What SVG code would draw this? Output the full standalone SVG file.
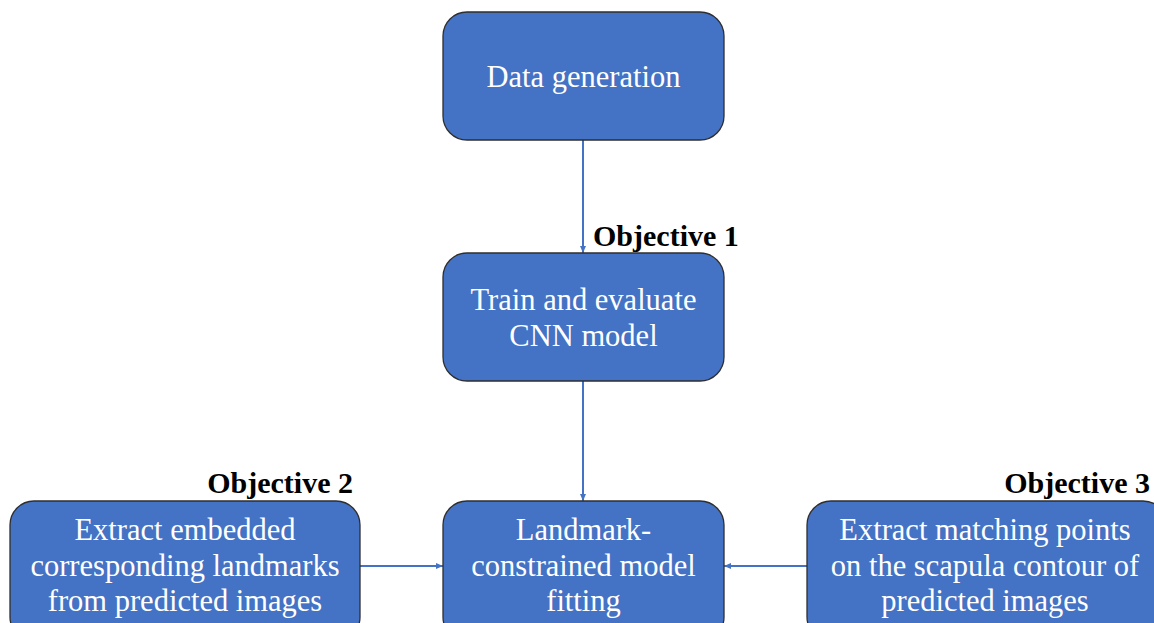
<svg xmlns="http://www.w3.org/2000/svg" width="1154" height="623" viewBox="0 0 1154 623">
<style>
.box{fill:#4472C4;stroke:#2E2E2E;stroke-width:1.3}
.t{font-family:"Liberation Serif","Times New Roman",serif;font-size:30.5px;fill:#fff;text-anchor:middle}
.obj{font-family:"Liberation Serif","Times New Roman",serif;font-size:30px;font-weight:bold;fill:#000}
.c{stroke:#4472C4;stroke-width:2;fill:none;marker-end:url(#ah)}
</style>
<defs>
<marker id="ah" markerWidth="8" markerHeight="8" refX="7" refY="4" orient="auto" markerUnits="userSpaceOnUse">
<path d="M0,1 L7,4 L0,7 Z" fill="#4472C4"/>
</marker>
</defs>
<rect width="1154" height="623" fill="#fff"/>
<g id="connectors">
<line class="c" x1="583" y1="140" x2="583" y2="253"/>
<line class="c" x1="583" y1="381" x2="583" y2="501"/>
<line class="c" x1="360" y1="566" x2="443" y2="566"/>
<line class="c" x1="807" y1="566" x2="724" y2="566"/>
</g>
<g id="n1">
<rect class="box" x="443" y="12" width="281" height="128" rx="24"/>
<text class="t" x="583.5" y="87">Data generation</text>
</g>
<g id="n2">
<rect class="box" x="443" y="253" width="281" height="128" rx="24"/>
<text class="t" x="583.5" y="310">Train and evaluate</text>
<text class="t" x="583.5" y="346">CNN model</text>
</g>
<g id="n3">
<rect class="box" x="443" y="501" width="281" height="140" rx="24"/>
<text class="t" x="583.5" y="540">Landmark-</text>
<text class="t" x="583.5" y="576">constrained model</text>
<text class="t" x="583.5" y="611">fitting</text>
</g>
<g id="n4">
<rect class="box" x="10" y="501" width="350" height="140" rx="24"/>
<text class="t" x="185" y="540">Extract embedded</text>
<text class="t" x="185" y="576">corresponding landmarks</text>
<text class="t" x="185" y="611">from predicted images</text>
</g>
<g id="n5">
<rect class="box" x="807" y="501" width="360" height="140" rx="24"/>
<text class="t" x="985" y="540">Extract matching points</text>
<text class="t" x="985" y="576">on the scapula contour of</text>
<text class="t" x="985" y="611">predicted images</text>
</g>
<g id="labels">
<text class="obj" x="593" y="246">Objective 1</text>
<text class="obj" x="353" y="493" text-anchor="end">Objective 2</text>
<text class="obj" x="1150" y="493" text-anchor="end">Objective 3</text>
</g>
</svg>
